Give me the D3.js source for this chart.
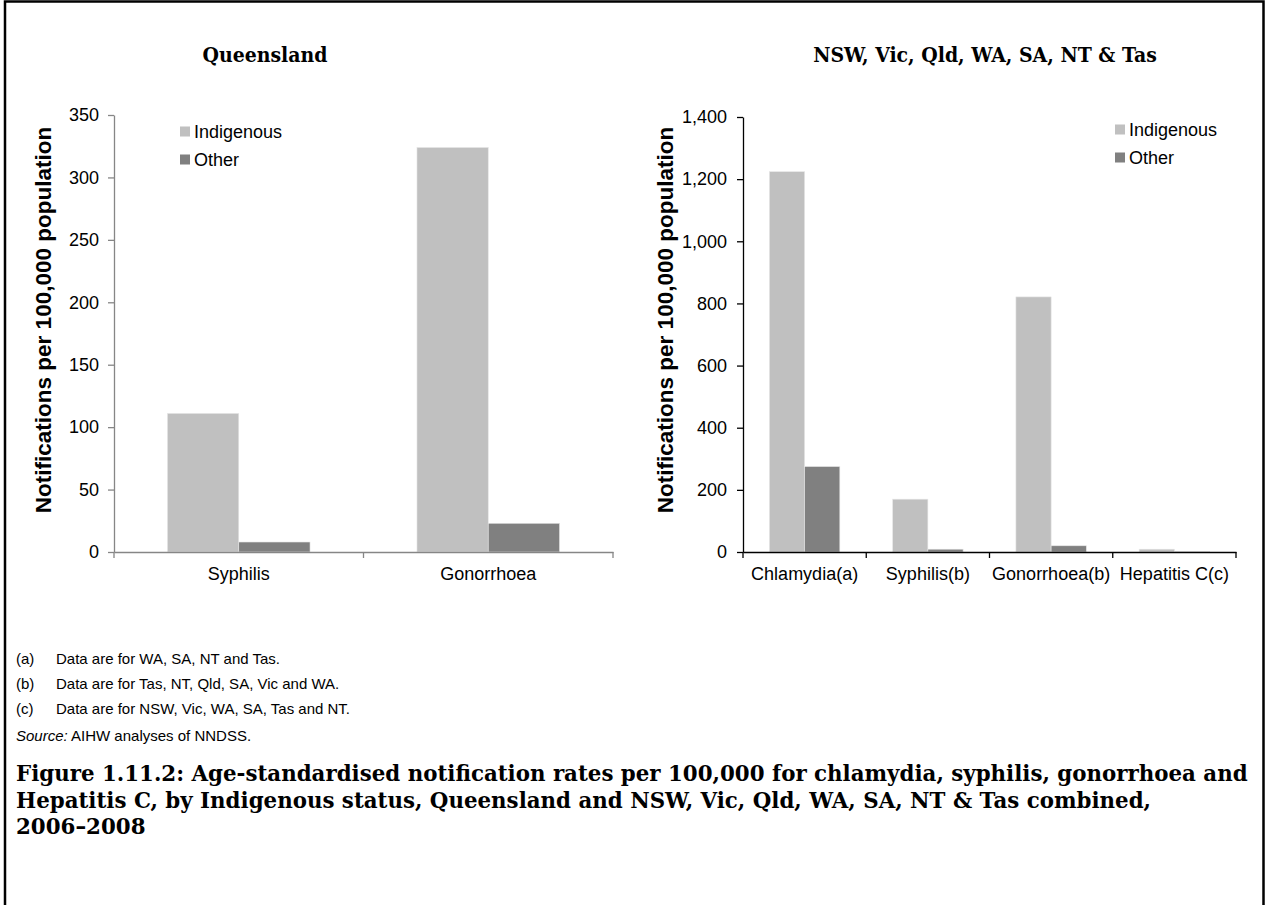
<!DOCTYPE html>
<html><head><meta charset="utf-8">
<script src="https://cdn.jsdelivr.net/npm/d3@7"></script>
<style>body{margin:0;background:#fff}</style>
</head><body>
<svg id="c" width="1267" height="905"></svg>
<script>
const seriesNames = ["Indigenous", "Other"];
const seriesColors = ["#C0C0C0", "#808080"];
const qldCategories = ["Syphilis", "Gonorrhoea"];
const qldIndigenous = [111, 324];
const qldOther = [8, 23];
const qldTicks = [0, 50, 100, 150, 200, 250, 300, 350];
const allCategories = ["Chlamydia(a)", "Syphilis(b)", "Gonorrhoea(b)", "Hepatitis C(c)"];
const allIndigenous = [1224, 170, 821, 9];
const allOther = [275, 9, 20, 2];
const allTicks = [0, 200, 400, 600, 800, 1000, 1200, 1400];
const panelTitles = ["Queensland", "NSW, Vic, Qld, WA, SA, NT & Tas"];
const yTitle = "Notifications per 100,000 population";
const footnotes = [["(a)", "Data are for WA, SA, NT and Tas."], ["(b)", "Data are for Tas, NT, Qld, SA, Vic and WA."], ["(c)", "Data are for NSW, Vic, WA, SA, Tas and NT."]];
const sourceLabel = "Source:";
const sourceText = " AIHW analyses of NNDSS.";
const captionLines = ["Figure 1.11.2: Age-standardised notification rates per 100,000 for chlamydia, syphilis, gonorrhoea and",
  "Hepatitis C, by Indigenous status, Queensland and NSW, Vic, Qld, WA, SA, NT & Tas combined,",
  "2006\u20132008"];

const SANS = "'Liberation Sans', Arial, sans-serif";
const SERIF_C = "'DejaVu Serif Condensed', 'DejaVu Serif', serif";
const SERIF = "'DejaVu Serif', serif";
const svg = d3.select("#c");

// frame
svg.append("path").attr("d", "M5,910 V1.5 H1263.5 V910").attr("fill", "none").attr("stroke", "#000").attr("stroke-width", 2.5);

function panel(cfg) {
  const g = svg.append("g");
  const y = d3.scaleLinear().domain([0, cfg.max]).range([cfg.y0, cfg.yTop]);
  const x = d3.scaleBand().domain(cfg.categories).range([cfg.x0, cfg.x1]).padding(0);
  const xs = d3.scaleBand().domain(seriesNames).range([0, x.bandwidth()]).paddingInner(0).paddingOuter(0.75);
  const values = [cfg.ind, cfg.oth];

  // bars
  seriesNames.forEach((s, si) => {
    g.append("g").selectAll("rect").data(cfg.categories).join("rect")
      .attr("x", (c) => x(c) + xs(s))
      .attr("width", xs.bandwidth())
      .attr("y", (c, i) => y(values[si][i]))
      .attr("height", (c, i) => cfg.y0 - y(values[si][i]))
      .attr("fill", seriesColors[si])
      .attr("stroke", "#e6e6e6").attr("stroke-width", 0.6);
  });

  // y axis
  const ya = g.append("g").attr("transform", `translate(${cfg.x0},0)`)
    .call(d3.axisLeft(y).tickValues(cfg.ticks).tickSize(6).tickSizeOuter(0).tickPadding(cfg.tickPad).tickFormat(d3.format(",")));
  ya.selectAll("path,line").attr("stroke", cfg.axisColor).attr("stroke-width", 1.3);
  ya.selectAll("text").attr("font-family", SANS).attr("font-size", 18).attr("fill", "#000");

  // x axis
  const xa = g.append("g").attr("transform", `translate(0,${cfg.y0})`)
    .call(d3.axisBottom(x).tickSize(0).tickSizeOuter(0).tickPadding(15));
  xa.select("path").attr("stroke", cfg.axisColor).attr("stroke-width", 1.3);
  xa.selectAll("text").attr("font-family", SANS).attr("font-size", 18).attr("fill", "#000");
  const bounds = cfg.categories.map((c) => x(c)).concat([x.range()[1]]);
  g.append("g").selectAll("line").data(bounds).join("line")
    .attr("x1", (d) => d).attr("x2", (d) => d)
    .attr("y1", cfg.y0).attr("y2", cfg.y0 + 6)
    .attr("stroke", cfg.axisColor).attr("stroke-width", 1.3);

  // y title
  g.append("text").attr("transform", `translate(${cfg.yTitleX},${cfg.yTitleY}) rotate(-90)`)
    .attr("text-anchor", "middle").attr("dominant-baseline", "central")
    .attr("font-family", SANS).attr("font-weight", "bold").attr("font-size", 22.5).text(yTitle);

  // title
  g.append("text").attr("x", cfg.titleX).attr("y", 62).attr("text-anchor", "middle")
    .attr("font-family", SERIF_C).attr("font-stretch", "condensed").attr("font-weight", "bold").attr("font-size", 21).text(cfg.title);

  // legend
  seriesNames.forEach((s, si) => {
    g.append("rect").attr("x", cfg.legX).attr("y", cfg.legY + si * 28 - 5).attr("width", 10).attr("height", 10).attr("fill", seriesColors[si]);
    g.append("text").attr("x", cfg.legX + 14).attr("y", cfg.legY + si * 28).attr("dominant-baseline", "central")
      .attr("font-family", SANS).attr("font-size", 18).text(s);
  });
}

panel({ categories: qldCategories, ind: qldIndigenous, oth: qldOther, ticks: qldTicks, max: 350,
  x0: 114, x1: 613, y0: 552, yTop: 115, tickPad: 9, axisColor: "#868686",
  yTitleX: 43, yTitleY: 320, title: panelTitles[0], titleX: 265, legX: 180, legY: 131.5 });
panel({ categories: allCategories, ind: allIndigenous, oth: allOther, ticks: allTicks, max: 1400,
  x0: 743, x1: 1236, y0: 552, yTop: 117, tickPad: 10, axisColor: "#000",
  yTitleX: 665, yTitleY: 320, title: panelTitles[1], titleX: 985, legX: 1115, legY: 129.5 });

// footnotes
const fn = svg.append("g").attr("font-family", SANS).attr("font-size", 15);
footnotes.forEach((f, i) => {
  fn.append("text").attr("x", 16).attr("y", 658 + i * 25).attr("dominant-baseline", "central").text(f[0]);
  fn.append("text").attr("x", 56).attr("y", 658 + i * 25).attr("dominant-baseline", "central").text(f[1]);
});
const src = fn.append("text").attr("x", 16).attr("y", 735).attr("dominant-baseline", "central");
src.append("tspan").attr("font-style", "italic").text(sourceLabel);
src.append("tspan").text(sourceText);

// caption
const cap = svg.append("g").attr("font-family", SERIF).attr("font-weight", "bold").attr("fill", "#000");
const capTexts = captionLines.map((t, i) => cap.append("text").attr("x", 16).attr("y", 781 + i * 26.5).attr("font-size", 18).text(t));
const w0 = capTexts[0].node().getComputedTextLength();
const fs = 18 * (1232 / w0);
capTexts.forEach((t) => t.attr("font-size", fs));
</script>
</body></html>
